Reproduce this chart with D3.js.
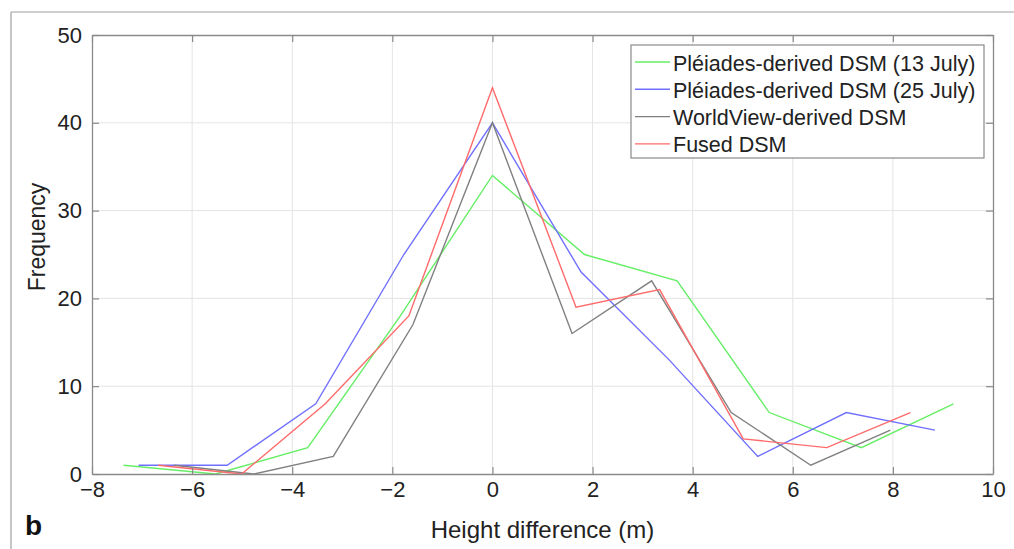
<!DOCTYPE html>
<html>
<head>
<meta charset="utf-8">
<script src="https://cdn.jsdelivr.net/npm/d3@7"></script>
<style>
  body { margin: 0; background: #fff; }
  svg { display: block; font-family: "Liberation Sans", Arial, sans-serif; }
</style>
</head>
<body>
<svg width="1014" height="549"></svg>
<script>
// bin centres (m) and counts
var xJuly13 = [-7.37, -5.53, -3.69, -1.84, 0, 1.84, 3.69, 5.53, 7.37, 9.21];
var yJuly13 = [1, 0, 3, 18, 34, 25, 22, 7, 3, 8];

var xJuly25 = [-7.07, -5.3, -3.53, -1.77, 0, 1.77, 3.53, 5.3, 7.07, 8.84];
var yJuly25 = [1, 1, 8, 25, 40, 23, 13, 2, 7, 5];

var xWorldView = [-6.36, -4.77, -3.18, -1.59, 0, 1.59, 3.18, 4.77, 6.36, 7.95];
var yWorldView = [1, 0, 2, 17, 40, 16, 22, 7, 1, 5];

var xFused = [-6.68, -5.01, -3.34, -1.67, 0, 1.67, 3.34, 5.01, 6.68, 8.35];
var yFused = [1, 0, 8, 18, 44, 19, 21, 4, 3, 7];

var seriesNames = ["Pléiades-derived DSM (13 July)", "Pléiades-derived DSM (25 July)",
                   "WorldView-derived DSM", "Fused DSM"];
var seriesColors = ["#66ee66", "#7070ff", "#808080", "#ff6a6a"];

var xTicks = [-8, -6, -4, -2, 0, 2, 4, 6, 8, 10];
var yTicks = [0, 10, 20, 30, 40, 50];

var svg = d3.select("svg");

// outer figure frame (partial, as in the scan)
svg.append("line").attr("x1", 11).attr("y1", 12).attr("x2", 1014).attr("y2", 12)
    .attr("stroke", "#a0a0a0").attr("stroke-width", 1.2);
svg.append("line").attr("x1", 11).attr("y1", 12).attr("x2", 11).attr("y2", 549)
    .attr("stroke", "#a0a0a0").attr("stroke-width", 1.2);

var plotLeft = 92, plotRight = 993, plotTop = 35, plotBottom = 474;

var x = d3.scaleLinear().domain([-8, 10]).range([plotLeft, plotRight]);
var y = d3.scaleLinear().domain([0, 50]).range([plotBottom, plotTop]);

// grid
svg.append("g").selectAll("line").data(xTicks.slice(1, -1)).enter().append("line")
    .attr("x1", function(d) { return x(d); }).attr("x2", function(d) { return x(d); })
    .attr("y1", plotTop).attr("y2", plotBottom)
    .attr("stroke", "#e4e4e4").attr("stroke-width", 1);
svg.append("g").selectAll("line").data(yTicks.slice(1, -1)).enter().append("line")
    .attr("y1", function(d) { return y(d); }).attr("y2", function(d) { return y(d); })
    .attr("x1", plotLeft).attr("x2", plotRight)
    .attr("stroke", "#e4e4e4").attr("stroke-width", 1);

// series
var series = [
  { x: xJuly13, y: yJuly13 },
  { x: xJuly25, y: yJuly25 },
  { x: xWorldView, y: yWorldView },
  { x: xFused, y: yFused }
];

var line = d3.line()
    .x(function(d) { return x(d[0]); })
    .y(function(d) { return y(d[1]); });

series.forEach(function(s, i) {
  svg.append("path")
      .datum(d3.zip(s.x, s.y))
      .attr("d", line)
      .attr("fill", "none")
      .attr("stroke", seriesColors[i])
      .attr("stroke-width", 1.4);
});

// axes (ticks pointing inward, box on)
var axisColor = "#8a8a8a";
var gx = svg.append("g").attr("transform", "translate(0," + plotBottom + ")")
    .call(d3.axisBottom(x).tickValues(xTicks).tickSizeInner(-7).tickSizeOuter(0)
      .tickPadding(13).tickFormat(function(d) { return d < 0 ? "\u2212" + (-d) : d; }));
var gxt = svg.append("g").attr("transform", "translate(0," + plotTop + ")")
    .call(d3.axisTop(x).tickValues(xTicks).tickSizeInner(-7).tickSizeOuter(0).tickFormat(""));
var gy = svg.append("g").attr("transform", "translate(" + plotLeft + ",0)")
    .call(d3.axisLeft(y).tickValues(yTicks).tickSizeInner(-7).tickSizeOuter(0).tickPadding(10));
var gyr = svg.append("g").attr("transform", "translate(" + plotRight + ",0)")
    .call(d3.axisRight(y).tickValues(yTicks).tickSizeInner(-7).tickSizeOuter(0).tickFormat(""));

[gx, gxt, gy, gyr].forEach(function(g) {
  g.select(".domain").attr("stroke", axisColor).attr("stroke-width", 1.3);
  g.selectAll(".tick line").attr("stroke", axisColor).attr("stroke-width", 1.2);
  g.selectAll(".tick text").attr("fill", "#222").style("font-size", "22px")
    .style("font-family", "'Liberation Sans', Arial, sans-serif");
});
gx.selectAll(".tick text").attr("dy", "0.45em");

// axis labels
svg.append("text")
    .attr("x", (plotLeft + plotRight) / 2).attr("y", 538)
    .attr("text-anchor", "middle")
    .style("font-size", "24px").attr("fill", "#222")
    .text("Height difference (m)");

svg.append("text")
    .attr("transform", "translate(45,237) rotate(-90)")
    .attr("text-anchor", "middle")
    .style("font-size", "23px").attr("fill", "#222")
    .text("Frequency");

// panel letter
svg.append("text")
    .attr("x", 25).attr("y", 535)
    .style("font-size", "28px").style("font-weight", "bold").attr("fill", "#111")
    .text("b");

// legend
var legend = svg.append("g").attr("transform", "translate(631,45)");
legend.append("rect")
    .attr("width", 353).attr("height", 113)
    .attr("fill", "#fff").attr("stroke", "#8a8a8a").attr("stroke-width", 1.2);

var items = legend.selectAll("g.item").data(seriesNames).enter().append("g")
    .attr("class", "item")
    .attr("transform", function(d, i) { return "translate(0," + (17 + i * 27.3) + ")"; });
items.append("line")
    .attr("x1", 4).attr("x2", 39).attr("y1", 0).attr("y2", 0)
    .attr("stroke", function(d, i) { return seriesColors[i]; })
    .attr("stroke-width", 1.4);
items.append("text")
    .attr("x", 42).attr("y", 1).attr("dy", "0.35em")
    .style("font-size", "21.5px").attr("fill", "#222")
    .text(function(d) { return d; });
</script>
</body>
</html>
